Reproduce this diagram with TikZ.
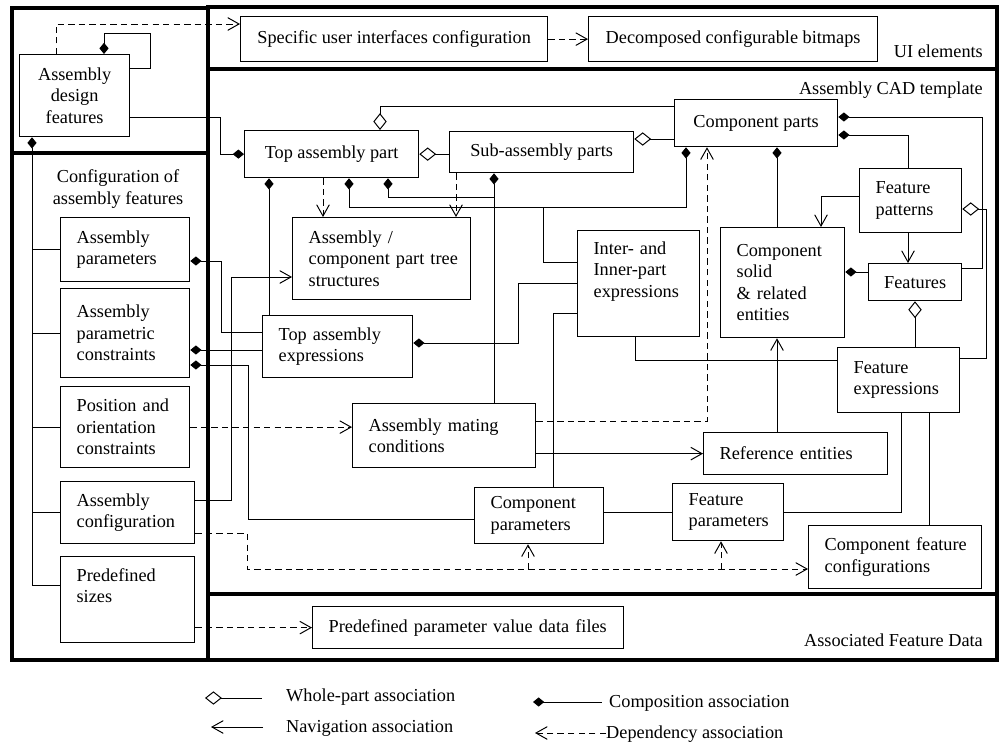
\documentclass[tikz,border=0pt]{standalone}
\usepackage{fontspec}
\setmainfont{Liberation Serif}
\usetikzlibrary{arrows.meta,calc}

% boxes placed by their top left corner, sizes in pixels of the sketch
\tikzset{
    box/.code 2 args={\pgfmathsetlengthmacro\boxwd{#1*0.025cm}\pgfmathsetlengthmacro\boxht{#2*0.025cm}%
        \tikzset{draw, line width=0.9pt, anchor=north west, align=center, minimum width=\boxwd, minimum height=\boxht}},
    lbox/.code 2 args={\pgfmathsetlengthmacro\boxwd{#1*0.025cm}\pgfmathsetlengthmacro\boxht{#2*0.025cm}%
        \pgfmathsetlengthmacro\boxtw{(#1-32)*0.025cm}%
        \tikzset{draw, line width=0.9pt, anchor=north west, align=left, inner xsep=0.4cm, text width=\boxtw, minimum width=\boxwd, minimum height=\boxht}}
}

\begin{document}
\begin{tikzpicture}[x=0.025cm, y=-0.025cm, line width=0.7pt, font=\fontsize{13}{15.3}\selectfont]
    \tikzstyle{comp}=[{Diamond[length=8pt,width=6.5pt]}-]
    \tikzstyle{comp2}=[{Diamond[length=8pt,width=6.5pt]}-{Diamond[length=8pt,width=6.5pt]}]
    \tikzstyle{whole}=[{Diamond[open,length=12pt,width=9.5pt]}-]
    \tikzstyle{nav}=[-{Straight Barb[length=8pt,width=9pt]}]
    \tikzstyle{dep}=[nav, dash pattern=on 4.5pt off 3pt]
    \tikzstyle{frame}=[line width=2.8pt]
    \tikzstyle{lab}=[anchor=east]

    \useasboundingbox (0,0) rectangle (1001,743);

    % Frames of the packages
    \draw[frame] (12,8) rectangle (208,660);
    \draw[frame] (12,153) -- (208,153);
    \draw[frame] (208,7) rectangle (997,660);
    \draw[frame] (208,69) -- (997,69);
    \draw[frame] (208,594) -- (997,594);
    \node[lab] (uilab) at (988,51) {UI elements};
    \node[lab] (cadlab) at (988,90) {Assembly CAD template};
    \node[lab] (datalab) at (988,640) {Associated Feature Data};
    \node[align=center] (conflab) at (118,189) {Configuration of\\assembly features};

    % UI elements
    \node[box={307}{45}] (spec) at (240,16) {Specific user interfaces configuration};
    \node[box={289}{45}] (bitm) at (588,16) {Decomposed configurable bitmaps};
    \node[box={110}{82}] (adf) at (19,54) {Assembly\\design\\features};

    % Configuration of assembly features
    \node[lbox={129}{64}] (aparam) at (60,217) {Assembly\\parameters};
    \node[lbox={129}{89}] (apc) at (60,288) {Assembly\\parametric\\constraints};
    \node[lbox={129}{81}] (poc) at (60,386) {Position and\\orientation\\constraints};
    \node[lbox={134}{62}] (aconf) at (60,481) {Assembly\\configuration};
    \node[lbox={134}{86}] (psize) at (60,556) {Predefined\\sizes\\\strut};

    % Assembly CAD template
    \node[box={174}{47}] (top) at (244,130) {Top assembly part};
    \node[box={184}{41}] (sub) at (449,131) {Sub-assembly parts};
    \node[box={163}{47}] (cparts) at (674,99) {Component parts};
    \node[lbox={178}{82}] (tree) at (292,217) {Assembly /\\\mbox{component part tree}\\structures};
    \node[lbox={150}{62}] (tae) at (262,315) {Top assembly\\expressions};
    \node[lbox={122}{106}] (inter) at (577,230) {Inter- and\\Inner-part\\expressions\\\strut};
    \node[lbox={124}{110}] (csolid) at (720,227) {Component\\solid\\\& related\\entities};
    \node[lbox={102}{64}] (fpat) at (859,168) {Feature\\patterns};
    \node[box={93}{37}] (feat) at (868,263) {Features};
    \node[lbox={122}{65}] (fexpr) at (837,347) {Feature\\expressions};
    \node[lbox={183}{64}] (mating) at (352,403) {\mbox{Assembly mating}\\conditions};
    \node[lbox={184}{42}] (ref) at (703,432) {Reference entities};
    \node[lbox={129}{56}] (cpar) at (474,487) {Component\\parameters};
    \node[lbox={111}{57}] (fpar) at (672,483) {Feature\\parameters};
    \node[lbox={173}{63}] (cfc) at (808,525) {\mbox{Component feature}\\configurations};

    % Associated feature data
    \node[lbox={311}{42}] (pdata) at (312,606) {\mbox{Predefined parameter value data files}};

    % UI links
    \draw[dep] (adf.north -| 56,0) |- (spec.west |- 0,24);
    \draw[dep] (spec.east) -- (bitm.west);
    \draw[comp] (adf.north -| 104,0) |- (150,33) |- (adf.east |- 0,68);
    \draw[comp] (top.west) -| (220,117) -- (adf.east |- 0,117);

    % configuration trunk
    \coordinate (trunk) at (32,0);
    \draw[comp] (adf.south -| trunk) |- (psize.west |- 0,585);
    \foreach \cb in {aparam,apc,poc,aconf}
        \draw (\cb.west) -- (\cb.west -| trunk);

    % assembly structure
    \draw[whole] (top.north -| 380,0) |- (cparts.west |- 0,106);
    \draw[whole] (top.east) -- (top.east -| sub.west);
    \draw[whole] (sub.east |- 0,139) -- (cparts.west |- 0,139);
    \draw[dep] (top.south -| 323,0) -- (tree.north -| 323,0);
    \draw[dep] (sub.south -| 456,0) -- (tree.north -| 456,0);
    \draw[comp] (top.south -| 269,0) -- (tae.north -| 269,0);
    \draw[comp2] (top.south -| 349,0) |- (686,207) -- (cparts.south -| 686,0);
    \coordinate (j1) at (543,207);
    \draw (j1) |- (inter.west |- 0,262);
    \coordinate (j0) at (494,197);
    \draw[comp] (top.south -| 388,0) |- (j0);
    \draw[comp] (sub.south -| j0) -- (mating.north -| j0);

    % expressions
    \draw[comp] (tae.east |- 0,343) -| (518,283) -- (inter.west |- 0,283);
    \draw (inter.west |- 0,313) -| (cpar.north -| 553,0);
    \draw (inter.south -| 635,0) |- (fexpr.west |- 0,360);

    % mating conditions
    \draw[dep] (poc.east) -- (mating.west |- poc.east);
    \draw[dep] (mating.east |- 0,421) -| (cparts.south -| 707,0);
    \draw[nav] (mating.east |- ref.west) -- (ref.west);

    % component side
    \draw[comp] (cparts.south -| 777,0) -- (csolid.north -| 777,0);
    \draw[nav] (ref.north -| 777,0) -- (csolid.south -| 777,0);
    \draw[comp] (cparts.east |- 0,117) -| (982,268) -- (feat.east |- 0,268);
    \draw[comp] (cparts.east |- 0,135) -| (fpat.north -| 908,0);
    \draw[nav] (fpat.west |- 0,196) -| (csolid.north -| 821,0);
    \draw[nav] (fpat.south -| 908,0) -- (feat.north -| 908,0);
    \draw[whole] (fpat.east |- 0,209) -| (986,358) -- (fexpr.east |- 0,358);
    \draw[comp] (csolid.east |- 0,272) -- (feat.west |- 0,272);
    \draw[whole] (feat.south -| 915,0) -- (fexpr.north -| 915,0);
    \draw (fexpr.south -| 901,0) |- (fpar.east);
    \draw (fexpr.south -| 929,0) -- (cfc.north -| 929,0);
    \draw (cpar.east |- fpar.west) -- (fpar.west);

    % configuration links
    \draw[comp] (aparam.east |- 0,261) -| (221,332) -- (tae.west |- 0,332);
    \draw[comp] (apc.east |- 0,350) -- (tae.west |- 0,350);
    \draw[comp] (apc.east |- 0,365) -| (248,519) -- (cpar.west |- 0,519);
    \draw[nav] (aconf.east |- 0,500) -| (231,277) -- (tree.west |- 0,277);
    \draw[dep] (aconf.east |- 0,533) -| (247,569) -- (cfc.west |- 0,569);
    \coordinate (j2) at (528,569);
    \coordinate (j3) at (721,569);
    \draw[dep] (j2) -- (cpar.south -| j2);
    \draw[dep] (j3) -- (fpar.south -| j3);
    \draw[dep] (psize.east |- pdata.west) -- (pdata.west);

    % Legend
    \node[anchor=west] (lwhole) at (281,697) {Whole-part association};
    \node[anchor=west] (lnav) at (281,728) {Navigation association};
    \node[anchor=west] (lcomp) at (604,703) {Composition association};
    \node[anchor=west] (ldep) at (601,734) {Dependency association};
    \draw[whole] ($(lwhole.west)+(-76,1)$) -- ($(lwhole.west)+(-19,1)$);
    \draw[nav] ($(lnav.west)+(-18,-1)$) -- ($(lnav.west)+(-70,-1)$);
    \draw[comp] ($(lcomp.west)+(-71,-1)$) -- ($(lcomp.west)+(-2,-1)$);
    \draw[dep] ($(ldep.west)+(5,-1)$) -- ($(ldep.west)+(-66,-1)$);
\end{tikzpicture}
\end{document}
